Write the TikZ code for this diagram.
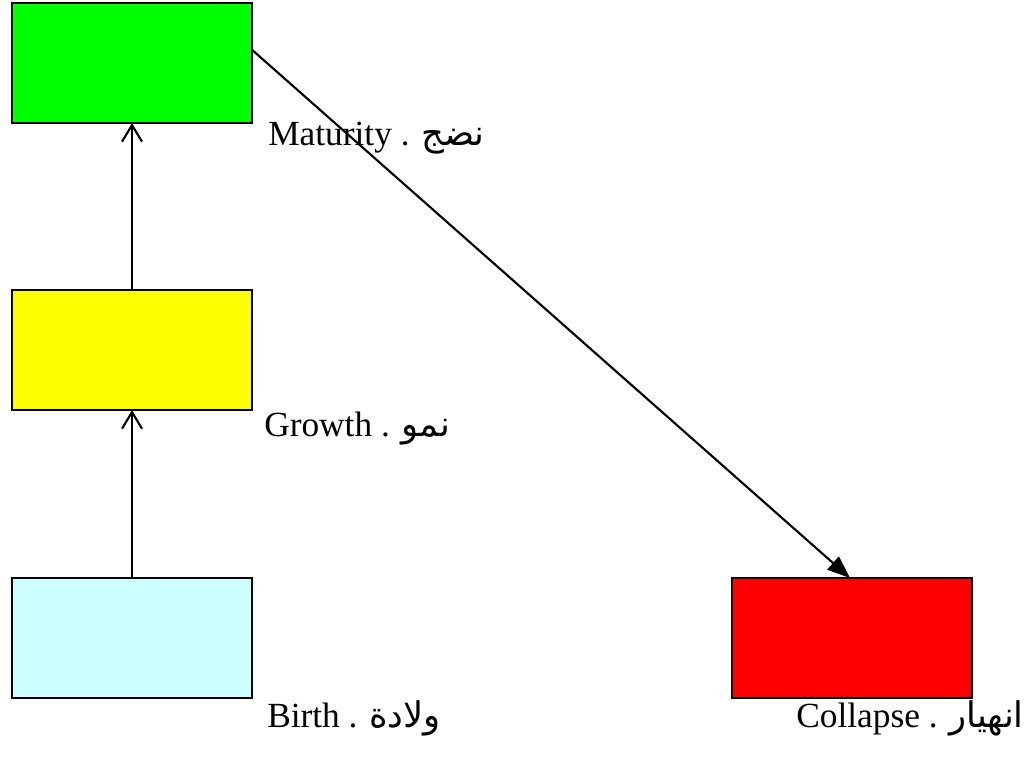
\documentclass[tikz,border=0pt]{standalone}
\usepackage{fontspec}
\setmainfont{Liberation Serif}
\newfontfamily\arabicfont[Script=Arabic,Scale=1.0]{DejaVu Sans}
\TeXXeTstate=1
\usetikzlibrary{arrows.meta,calc}
\tikzset{
  stage/.style={draw=black, line width=1.6pt, inner sep=0pt, outer sep=0pt,
    minimum width=180pt, minimum height=90pt},
  caption/.style={anchor=base west, inner sep=0pt,
    font=\fontsize{26.5}{31}\selectfont},
  upflow/.style={line width=1.6pt, -{Straight Barb[length=12.5pt,width=15pt,line width=1.6pt]}},
  fallflow/.style={line width=1.6pt, -{Triangle[length=17pt,width=13pt]}}
}
\begin{document}
\begin{tikzpicture}[x=0.75pt,y=-0.75pt]
  \useasboundingbox (0,0) rectangle (1028,759);
  % four stages of the cycle
  \node[stage, fill={rgb,255:red,0;green,255;blue,0}]   (maturity) at (132,63)  {};
  \node[stage, fill={rgb,255:red,255;green,255;blue,0}] (growth)   at (132,350) {};
  \node[stage, fill={rgb,255:red,204;green,255;blue,255}] (birth)  at (132,638) {};
  \node[stage, fill={rgb,255:red,255;green,0;blue,0}]   (collapse) at (852,638) {};
  % captions
  \node[caption] (lmat) at (268,146) {Maturity . {\arabicfont\beginR نضج\endR}};
  \node[caption] (lgro) at (264,436) {Growth . {\arabicfont\beginR نمو\endR}};
  \node[caption] (lbir) at (267,727) {Birth . {\arabicfont\beginR ولادة\endR}};
  \node[caption] (lcol) at (796,727) {Collapse . {\arabicfont\beginR انهيار\endR}};
  % transitions
  \draw[upflow] (birth) -- (growth);
  \draw[upflow] (growth) -- (maturity);
  \coordinate (peak) at ($(maturity.north east)!0.39!(maturity.south east)$);
  \draw[fallflow] (peak) -- ([xshift=-1.5pt]collapse.north);
\end{tikzpicture}
\end{document}
